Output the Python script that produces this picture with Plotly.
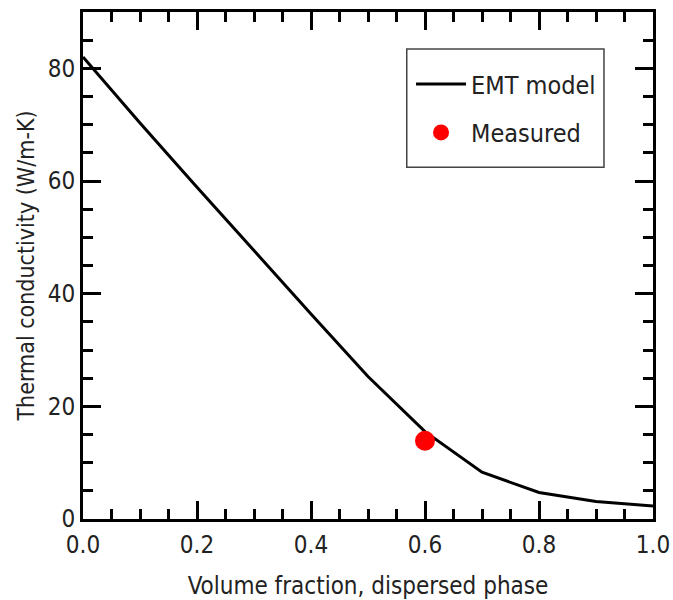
import plotly.graph_objects as go

volume_fraction = [0.0, 0.1, 0.2, 0.3, 0.4, 0.5, 0.6, 0.7, 0.8, 0.9, 1.0]
emt_model = [82.0, 70.3, 58.9, 47.6, 36.4, 25.3, 15.5, 8.3, 4.7, 3.1, 2.3]
measured_x = [0.6]
measured_y = [13.9]

FONT = "DejaVu Sans Condensed, DejaVu Sans, sans-serif"

fig = go.Figure()
fig.add_trace(go.Scatter(
    x=volume_fraction, y=emt_model, mode="lines", name="EMT model",
    line=dict(color="black", width=3), legendgroup="a",
))
fig.add_trace(go.Scatter(
    x=measured_x, y=measured_y, mode="markers", name="Measured",
    marker=dict(color="#ff0000", size=20), legendgroup="b",
))

axis_common = dict(
    showline=True, linecolor="black", linewidth=3, mirror="allticks",
    ticks="inside", ticklen=18, tickwidth=2.5, tickcolor="black",
    showgrid=False, zeroline=False,
    tickfont=dict(family=FONT, size=24, color="#222"),
)

fig.update_xaxes(
    range=[0, 1], dtick=0.2, tickformat=".1f",
    minor=dict(dtick=0.05, ticks="inside", ticklen=10, tickwidth=2.5, tickcolor="black"),
    title_text="Volume fraction, dispersed phase", title_standoff=24,
    title_font=dict(family=FONT, size=24, color="#222"),
    ticklabelstandoff=2,
    **axis_common,
)
fig.update_yaxes(
    range=[0, 90], tickvals=[0, 20, 40, 60, 80],
    minor=dict(dtick=5, ticks="inside", ticklen=10, tickwidth=2.5, tickcolor="black"),
    title_text="Thermal conductivity (W/m-K)", title_standoff=7,
    title_font=dict(family=FONT, size=23, color="#222"),
    **axis_common,
)

# legend frame (decorative box around the legend)
fig.add_shape(
    type="rect", xref="paper", yref="paper",
    x0=0.568, x1=0.914, y0=0.694, y1=0.927,
    line=dict(color="#444", width=1.5), fillcolor="white", layer="above",
)

fig.update_layout(
    width=673, height=600,
    margin=dict(l=83, r=20, t=12, b=81, autoexpand=False),
    plot_bgcolor="white", paper_bgcolor="white",
    font=dict(family=FONT, color="#222"),
    legend=dict(
        x=0.5755, y=0.903, xanchor="left", yanchor="top",
        borderwidth=0, bgcolor="rgba(0,0,0,0)",
        font=dict(family=FONT, size=25, color="#222"),
        tracegroupgap=13, itemwidth=50,
    ),
    showlegend=True,
)

fig.write_html("out.html")
